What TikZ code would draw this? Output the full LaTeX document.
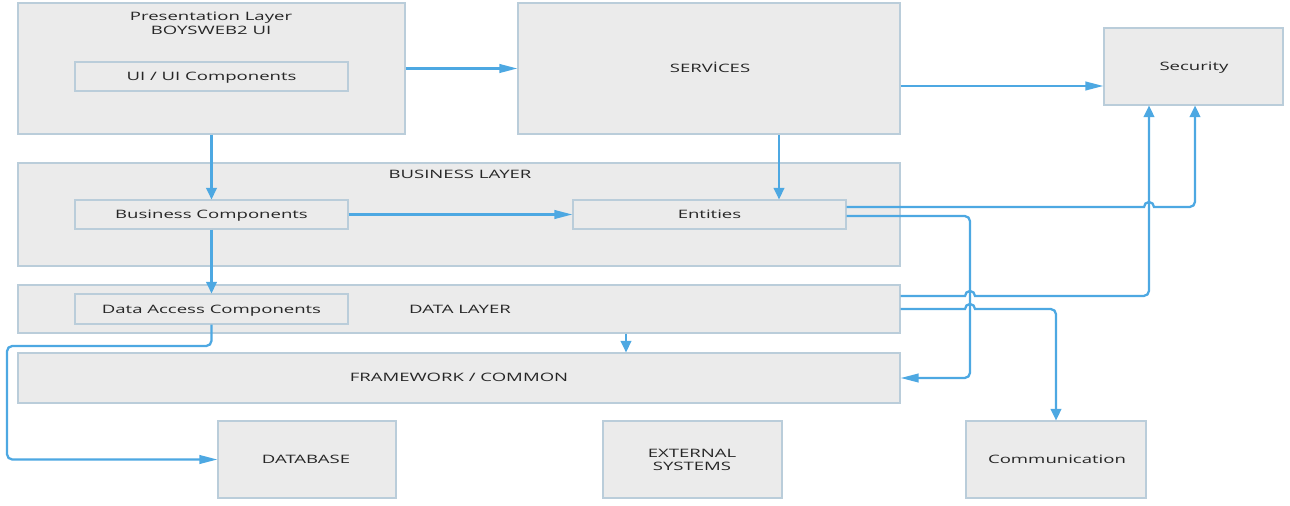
\documentclass[tikz,border=0pt]{standalone}
\usepackage{fontspec}
\setmainfont[FakeStretch=1.6]{Open Sans}
\usetikzlibrary{fit, shadows, arrows.meta}

\definecolor{boxfill}{HTML}{EBEBEB}
\definecolor{boxline}{HTML}{BACDDA}
\definecolor{wireblue}{HTML}{4DA8E2}

\tikzset{
    box/.style={draw=boxline, fill=boxfill, line width=0.6pt, inner sep=0pt,
        drop shadow={shadow xshift=0.5pt, shadow yshift=-0.7pt, opacity=0.25}, fit={#1}},
    txt/.style={text height=4.7pt, text depth=0pt, text=black!85},
    wire/.style={draw=wireblue, line width=1.3pt, -{Triangle[length=0.23cm, width=0.21cm]}},
    hwire/.style={wire, -{Triangle[length=0.36cm, width=0.17cm]}},
}

\begin{document}
\begin{tikzpicture}[x=0.02cm, y=-0.02cm, font=\fontsize{6.6}{8}\selectfont]
    \useasboundingbox (0,0) rectangle (1290,506);

    % layers and boxes
    \node[box={(18,3) (405,134)}] (pres) {};
    \node[align=center, text=black!85] (prestitle) at (211,23) {Presentation Layer\\BOYSWEB2 UI};
    \node[box={(75,62) (348,91)}] (ui) {};
    \node[txt] (uitext) at (ui) {UI / UI Components};

    \node[box={(518,3) (900,134)}] (srv) {};
    \node[txt] (srvtext) at (710,68) {SERVİCES};

    \node[box={(1104,28) (1283,105)}] (sec) {};
    \node[txt] (sectext) at (1194,66) {Security};

    \node[box={(18,163) (900,266)}] (bus) {};
    \node[txt] (bustitle) at (460,174) {BUSINESS LAYER};
    \node[box={(75,200) (348,229)}] (bc) {};
    \node[txt] (bctext) at (bc) {Business Components};
    \node[box={(573,200) (846,229)}] (ent) {};
    \node[txt] (enttext) at (ent) {Entities};

    \node[box={(18,285) (900,333)}] (data) {};
    \node[txt] (datatitle) at (460,309) {DATA LAYER};
    \node[box={(75,294) (348,324)}] (dac) {};
    \node[txt] (dactext) at (dac) {Data Access Components};

    \node[box={(18,353) (900,403)}] (fw) {};
    \node[txt] (fwtext) at (459,377) {FRAMEWORK / COMMON};

    \node[box={(218,421) (396,498)}] (db) {};
    \node[txt] (dbtext) at (306,459) {DATABASE};
    \node[box={(603,421) (782,498)}] (ext) {};
    \node[align=center, text=black!85, font=\fontsize{6.6}{7.6}\selectfont] (exttext) at (692,460) {EXTERNAL\\SYSTEMS};
    \node[box={(966,421) (1146,498)}] (com) {};
    \node[txt] (comtext) at (1057,459) {Communication};

    % connectors
    \draw[hwire] (pres.east) -- (srv.west);
    \draw[hwire] (srv.east |- 0,86) -- (sec.west |- 0,86);
    \draw[wire] (pres.south) -- (bc.north);
    \draw[wire] (779,0 |- srv.south) -- (779,0 |- ent.north);
    \draw[hwire] (bc.east) -- (ent.west);
    \draw[wire] (bc.south) -- (dac.north);
    \draw[hwire, rounded corners=3pt] (dac.south) |- (7,346) |- (db.west);
    \draw[wire] (626,0 |- data.south) -- (626,0 |- fw.north);

    \draw[wire] (ent.east |- 0,207) -- (1144,207)
        arc[start angle=180, end angle=0, radius=0.1cm]
        [rounded corners=3pt] -| (1195,0 |- sec.south);
    \draw[hwire, rounded corners=3pt] (ent.east |- 0,216) -| (970,0 |- fw.east) -- (fw.east);
    \draw[wire] (data.east |- 0,296) -- (965,296)
        arc[start angle=180, end angle=0, radius=0.1cm]
        [rounded corners=3pt] -| (1149,0 |- sec.south);
    \draw[wire] (data.east |- 0,309) -- (965,309)
        arc[start angle=180, end angle=0, radius=0.1cm]
        [rounded corners=3pt] -| (com.north);
\end{tikzpicture}
\end{document}
